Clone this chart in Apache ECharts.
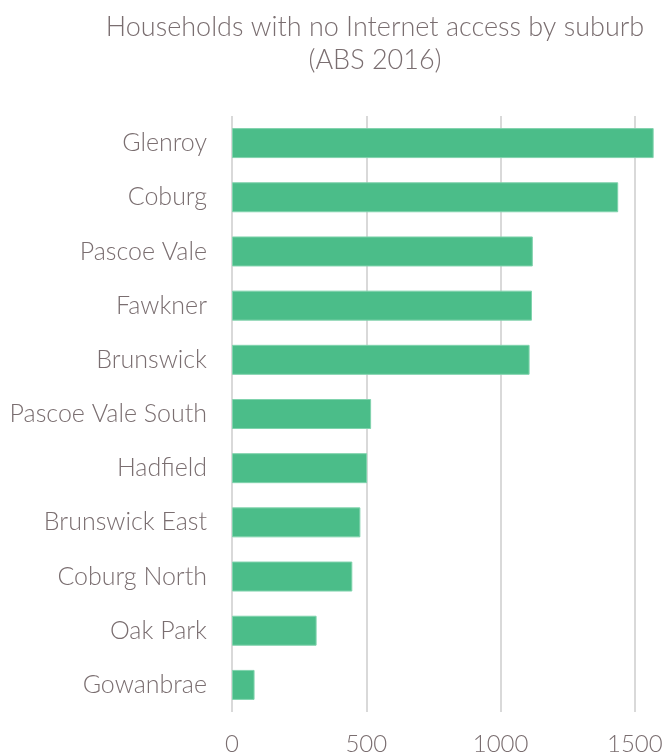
<!DOCTYPE html>
<html>
<head>
<meta charset="utf-8">
<script src="https://cdn.jsdelivr.net/npm/echarts@6/dist/echarts.min.js"></script>
<style>
  html, body { margin: 0; padding: 0; background: #fff; overflow: hidden; }
  /* the plot runs on past the right edge of the window, up to 2000 */
  #chart { width: 800px; height: 756px; }
</style>
</head>
<body>
<div id="chart"></div>
<script>
// Suburbs listed top to bottom
const suburbs = [
  'Glenroy', 'Coburg', 'Pascoe Vale', 'Fawkner', 'Brunswick',
  'Pascoe Vale South', 'Hadfield', 'Brunswick East', 'Coburg North',
  'Oak Park', 'Gowanbrae'
];
// Households with no Internet access, same order
const households = [1570, 1438, 1120, 1117, 1108, 518, 503, 478, 448, 315, 84];
// Value axis ticks
const tickValues = [0, 500, 1000, 1500, 2000];

const textColor = '#7a6e70';
const fontFamily = 'Lato, "Open Sans", sans-serif';

const chart = echarts.init(document.getElementById('chart'), null, { renderer: 'canvas' });
chart.setOption({
  animation: false,
  title: {
    text: 'Households with no Internet access by suburb\n(ABS 2016)',
    left: 370,
    top: 6,
    textAlign: 'center',
    textStyle: {
      color: textColor,
      fontFamily: fontFamily,
      fontWeight: 300,
      fontSize: 27,
      lineHeight: 33
    }
  },
  grid: {
    left: 232,
    top: 116,
    width: 540,
    height: 597,
    containLabel: false
  },
  xAxis: {
    type: 'value',
    min: tickValues[0],
    max: tickValues[tickValues.length - 1],
    interval: tickValues[1] - tickValues[0],
    axisLine: { show: false },
    axisTick: { show: false },
    splitLine: { lineStyle: { color: '#d9d9d9', width: 2 } },
    axisLabel: {
      color: textColor,
      fontFamily: fontFamily,
      fontWeight: 300,
      fontSize: 24,
      margin: 20,
      formatter: (v) => String(v)
    }
  },
  yAxis: {
    type: 'category',
    data: suburbs,
    inverse: true,
    axisLine: { show: false },
    axisTick: { show: false },
    axisLabel: {
      color: textColor,
      fontFamily: fontFamily,
      fontWeight: 300,
      fontSize: 25,
      margin: 25
    }
  },
  series: [{
    type: 'bar',
    data: households,
    barWidth: 30,
    itemStyle: {
      color: '#4bbd89',
      borderColor: '#80d3ad',
      borderWidth: 1
    }
  }]
});
</script>
</body>
</html>
